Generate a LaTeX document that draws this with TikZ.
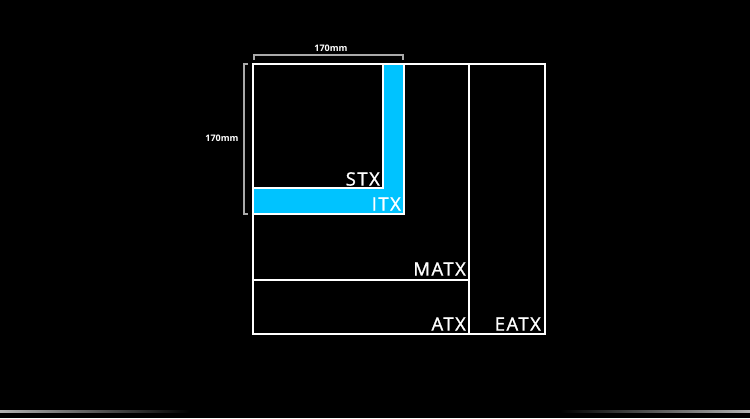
\documentclass[tikz,border=0pt]{standalone}
\usepackage{fontspec}
\setmainfont{Open Sans}
\newfontfamily\lblfont{Open Sans}[FakeBold=1.2,LetterSpace=8]
\definecolor{cyanfill}{RGB}{0,195,255}
\definecolor{brk}{RGB}{170,170,170}
\begin{document}
\begin{tikzpicture}[x=1pt,y=-1pt,
  frame/.style={draw=white,line width=2pt},
  lbl/.style={text=white,font=\lblfont\fontsize{18.5}{18.5}\selectfont,inner sep=0pt,anchor=east},
  dim/.style={text=white,font=\bfseries\fontsize{9}{9}\selectfont,inner sep=0pt},
  brkline/.style={draw=brk,line width=1.6pt}]
\fill[black] (0,0) rectangle (750,418);
\useasboundingbox (0,0) rectangle (750,418);
% bottom glow line
\shade[left color=white!70!black,right color=black] (0,410) rectangle (190,412);
\shade[left color=black,right color=white!70!black] (560,410) rectangle (750,412);
% cyan L
\fill[cyanfill] (253,64) rectangle (404,214);
\fill[black] (253,64) rectangle (383,188);
% frames
\draw[frame] (253,64) rectangle (545,334);
\draw[frame] (469,64) -- (469,334);
\draw[frame] (253,280) -- (469,280);
\draw[frame] (253,64) rectangle (404,214);
\draw[frame] (253,64) rectangle (383,188);
% brackets
\draw[brkline] (254,60) -- (254,55) -- (403,55) -- (403,60);
\draw[brkline] (248,64) -- (244,64) -- (244,214) -- (248,214);
\node[dim] (dtop) at (331,48) {170mm};
\node[dim] (dleft) at (222,138) {170mm};
% labels
\node[lbl] (stx) at (380,179) {STX};
\node[lbl] (itx) at (401,204) {ITX};
\node[lbl] (matx) at (466,269) {MATX};
\node[lbl] (atx) at (466,324) {ATX};
\node[lbl] (eatx) at (541,324) {EATX};
\end{tikzpicture}
\end{document}
